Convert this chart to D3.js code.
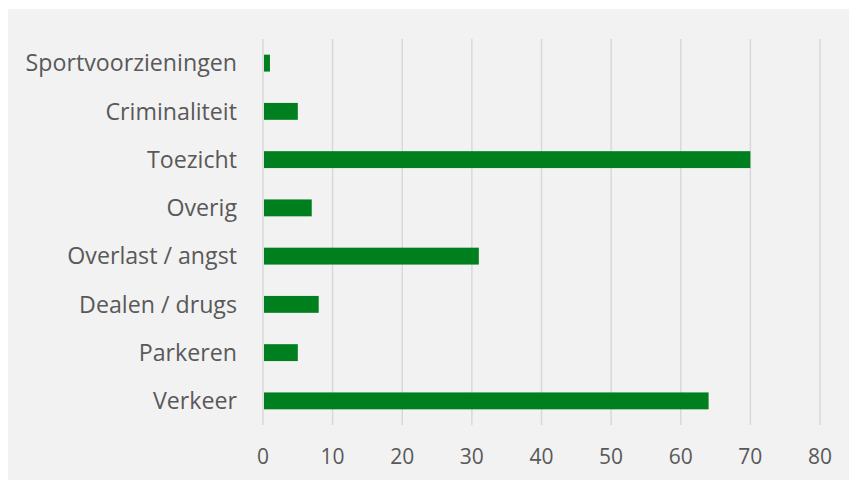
<!DOCTYPE html>
<html><head><meta charset="utf-8">
<script src="https://cdn.jsdelivr.net/npm/d3@7"></script>
<style>body{margin:0;background:#fff}svg{display:block}</style>
</head><body>
<script>
const categories = ["Sportvoorzieningen","Criminaliteit","Toezicht","Overig","Overlast / angst","Dealen / drugs","Parkeren","Verkeer"];
const values = [1,5,70,7,31,8,5,64];
const ticks = [0,10,20,30,40,50,60,70,80];

const W=849,H=480;
const svg=d3.select("body").append("svg").attr("width",W).attr("height",H);
svg.append("rect").attr("x",8).attr("y",9).attr("width",W-8).attr("height",H-9).attr("fill","#f2f2f2");
const x=d3.scaleLinear().domain([0,80]).range([263,820]);
const y=d3.scaleBand().domain(categories).range([39,425]).paddingInner(0.65).paddingOuter(0.325);
const font="'Open Sans', sans-serif";
svg.append("g").selectAll("line").data(ticks).join("line")
 .attr("x1",d=>x(d)).attr("x2",d=>x(d)).attr("y1",39).attr("y2",425)
 .attr("stroke","#d9d9d9").attr("stroke-width",1.5);
svg.append("g").selectAll("rect").data(values).join("rect")
 .attr("x",x(0)+1).attr("y",(d,i)=>y(categories[i])).attr("height",y.bandwidth())
 .attr("width",d=>x(d)-x(0)-1).attr("fill","#007f1f");
svg.append("g").selectAll("text").data(categories).join("text")
 .attr("x",237).attr("y",d=>y(d)+y.bandwidth()/2).attr("dy","0.36em").attr("text-anchor","end")
 .attr("font-family",font).attr("font-size",23.2).attr("fill","#595959").text(d=>d);
svg.append("g").selectAll("text").data(ticks).join("text")
 .attr("x",d=>x(d)).attr("y",456).attr("dy","0.36em").attr("text-anchor","middle")
 .attr("font-family",font).attr("font-size",21).attr("fill","#595959").text(d=>d);
</script>
</body></html>
